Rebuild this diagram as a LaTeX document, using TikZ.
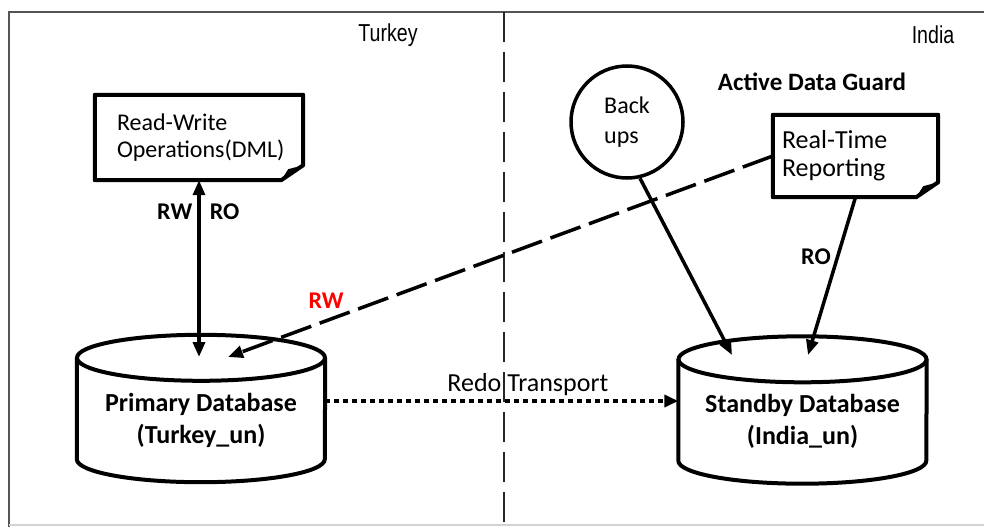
\documentclass[tikz,border=0pt]{standalone}
\usepackage{fontspec}
\setmainfont{Carlito}
\newfontfamily\sitefont[FakeStretch=0.8]{Liberation Sans}
\usepackage{tikz}
\usetikzlibrary{arrows.meta, positioning, calc}
\definecolor{framegray}{RGB}{85,85,85}
\definecolor{rwred}{RGB}{255,0,0}
\tikzset{
    framerule/.style={draw=framegray, line width=1.6pt},
    siteline/.style={draw=black!85, line width=2.6pt, dash pattern=on 30pt off 10pt},
    sitelabel/.style={font=\sitefont\fontsize{24.5pt}{28pt}\selectfont, inner sep=0pt},
    guardlabel/.style={font=\fontsize{25pt}{30pt}\selectfont\bfseries, inner sep=0pt},
    notebox/.style={rectangle, inner ysep=0pt, align=left, font=\fontsize{24pt}{27pt}\selectfont},
    noteline/.style={draw=black, line width=4pt, line join=round},
    backupnode/.style={circle, draw=black, line width=3.5pt, minimum size=112pt, inner sep=0pt, align=left, font=\fontsize{24pt}{30pt}\selectfont},
    dbnode/.style={rectangle, minimum width=248pt, minimum height=124pt, inner sep=0pt, align=center, font=\fontsize{26pt}{32pt}\selectfont\bfseries},
    dbline/.style={draw=black, line width=4pt},
    linklabel/.style={font=\fontsize{24pt}{28pt}\selectfont\bfseries, inner sep=3pt},
    dbarrow/.style={-{Triangle[length=15pt, width=12pt]}, line width=3.5pt, black},
    dbdarrow/.style={{Triangle[length=15pt, width=12pt]}-{Triangle[length=15pt, width=12pt]}, line width=3.5pt, black},
    rwarrow/.style={dbarrow, dash pattern=on 32pt off 9pt},
    redoarrow/.style={-{Triangle[length=14pt, width=12pt]}, line width=4pt, black, dash pattern=on 5pt off 4pt}
}
\newcommand\noteoutline[1]{%
    \draw[noteline] (#1.north west) -- (#1.north east) -- ([yshift=15pt]#1.south east) -- ([xshift=-22pt]#1.south east) -- (#1.south west) -- cycle;
    \fill ([xshift=-22pt]#1.south east) -- ([xshift=-15pt,yshift=11pt]#1.south east) -- ([yshift=15pt]#1.south east) -- cycle;
}
\newcommand\dboutline[1]{%
    \draw[dbline] (#1.north) ellipse[x radius=124pt, y radius=23pt];
    \draw[dbline] (#1.north west) -- ([yshift=23pt]#1.south west) arc[start angle=180, end angle=360, x radius=124pt, y radius=23pt] -- (#1.north east);
}

\begin{document}
\begin{tikzpicture}[x=1pt, y=-1pt]
\useasboundingbox (0,0) rectangle (984,527);
\fill[white] (0,0) rectangle (984,527);

\draw[framerule] (9,527) -- (9,12) -- (984,12);
\draw[framerule, draw=framegray!25] (9,525) -- (984,525);
\draw[siteline] (504,12) -- (504,527);

\node[sitelabel] (turkey) at (388,35) {Turkey};
\node[sitelabel] (india) at (933,35) {India};
\node[guardlabel] (guard) at (812,82) {Active Data Guard};

\node[notebox, minimum width=208pt, minimum height=85pt, text width=164pt, inner xsep=22pt] (rwops) at (199,137.5) {Read-Write\\Operations(DML)};
\noteoutline{rwops}
\node[backupnode] (backups) at (627,122) {Back\\ups};
\node[notebox, minimum width=165pt, minimum height=82pt, text width=147pt, inner xsep=9pt, font=\fontsize{26pt}{28pt}\selectfont] (report) at (855.5,156) {Real-Time\\Reporting};
\noteoutline{report}

\node[dbnode] (primary) at (201,420) {Primary Database\\(Turkey\_un)};
\dboutline{primary}
\node[dbnode] (standby) at (802.5,421.5) {Standby Database\\(India\_un)};
\dboutline{standby}

\coordinate (primary-rw) at (199,357);
\coordinate (primary-rt) at (228,357);
\coordinate (standby-bk) at (732,355);
\coordinate (standby-ro) at (808,355);

\draw[dbdarrow] (rwops.south) -- (primary-rw)
    node[linklabel, pos=0.18, left=2pt] {RW}
    node[linklabel, pos=0.18, right=6pt] {RO};
\draw[rwarrow] (report.west) -- (primary-rt)
    node[linklabel, pos=0.82, above=8pt, text=rwred] {RW};
\draw[dbarrow] (backups.-77) -- (standby-bk);
\draw[dbarrow] (report.south) -- (standby-ro)
    node[linklabel, pos=0.38, left=2pt] {RO};
\draw[redoarrow] ([yshift=19pt]primary.east) -- ([yshift=19pt]primary.east -| standby.west)
    node[pos=0.574, above, font=\fontsize{26pt}{30pt}\selectfont] {Redo Transport};

\end{tikzpicture}
\end{document}
